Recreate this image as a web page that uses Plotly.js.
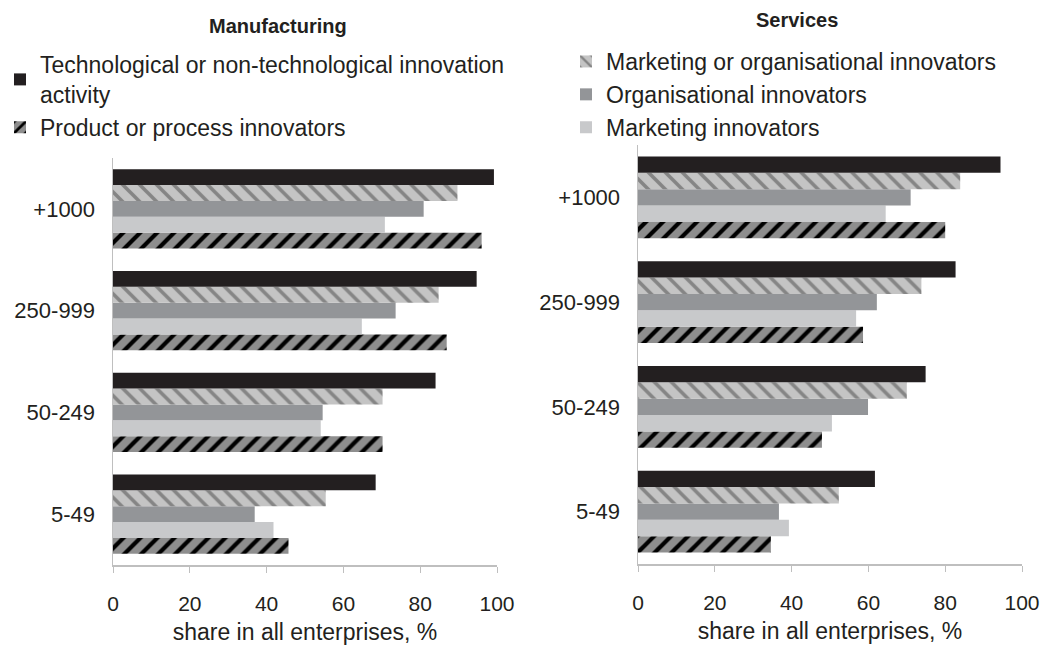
<!DOCTYPE html>
<html>
<head>
<meta charset="utf-8">
<script src="https://cdn.plot.ly/plotly-3.0.1.min.js"></script>
<style>
  html, body { margin: 0; padding: 0; background: #fff; }
  #chart { width: 1043px; height: 646px; }
</style>
</head>
<body>
<div id="chart"></div>
<script>
'use strict'

// data (bottom category first)

const sizeClasses = ['5-49', '50-249', '250-999', '+1000']

const manuTech = [68.4, 84.0, 94.7, 99.2]
const manuMktOrOrg = [55.4, 70.2, 84.8, 89.7]
const manuOrg = [36.9, 54.6, 73.6, 80.9]
const manuMkt = [41.8, 54.1, 64.8, 70.8]
const manuProduct = [45.7, 70.2, 86.9, 96.0]

const servTech = [61.7, 74.9, 82.7, 94.4]
const servMktOrOrg = [52.3, 70.0, 73.8, 83.9]
const servOrg = [36.7, 59.9, 62.2, 71.0]
const servMkt = [39.3, 50.5, 56.8, 64.5]
const servProduct = [34.6, 47.9, 58.6, 80.0]

const names = {
  tech: 'Technological or non-technological innovation<br>activity',
  product: 'Product or process innovators',
  mktOrOrg: 'Marketing or organisational innovators',
  org: 'Organisational innovators',
  mkt: 'Marketing innovators'
}

///////////////////////////////////////////////////////

const W = 1043, H = 646
const FONT = 'Arial, "Liberation Sans", sans-serif'
const INK = '#231f20'
const AXIS = '#bfbfbf'

const markers = {
  tech: { color: INK, line: { width: 0 } },
  product: {
    color: '#8e8e8e',
    line: { width: 0 },
    pattern: { shape: '/', bgcolor: '#8e8e8e', fgcolor: '#000000', size: 12, solidity: 0.35 }
  },
  mktOrOrg: {
    color: '#c4c4c4',
    line: { width: 0 },
    pattern: { shape: '\\', bgcolor: '#c4c4c4', fgcolor: '#858585', size: 12, solidity: 0.3 }
  },
  org: { color: '#939598', line: { width: 0 } },
  mkt: { color: '#c8c9cb', line: { width: 0 } }
}

// first trace is drawn at the bottom of each group
const makeTraces = (series, axes, legendName, inLegend) =>
  ['product', 'mkt', 'org', 'mktOrOrg', 'tech'].map(key => ({
    type: 'bar',
    orientation: 'h',
    name: names[key],
    x: series[key],
    y: sizeClasses,
    xaxis: axes[0],
    yaxis: axes[1],
    marker: markers[key],
    legend: legendName,
    showlegend: inLegend.includes(key),
    hoverinfo: 'x+name'
  }))

let traces = [
  ...makeTraces(
    { tech: manuTech, product: manuProduct, mktOrOrg: manuMktOrOrg, org: manuOrg, mkt: manuMkt },
    ['x', 'y'], 'legend', ['tech', 'product']
  ),
  ...makeTraces(
    { tech: servTech, product: servProduct, mktOrOrg: servMktOrOrg, org: servOrg, mkt: servMkt },
    ['x2', 'y2'], 'legend2', ['mktOrOrg', 'org', 'mkt']
  )
]

const xAxis = (anchor, domainPx) => ({
  anchor: anchor,
  domain: [domainPx[0] / W, domainPx[1] / W],
  range: [0, 100],
  dtick: 20,
  ticks: 'outside',
  ticklen: 6,
  tickwidth: 1,
  tickcolor: AXIS,
  showline: true,
  linecolor: AXIS,
  linewidth: 1.5,
  showgrid: false,
  zeroline: false,
  fixedrange: true,
  automargin: false,
  ticklabelstandoff: 13,
  tickfont: { size: 21, color: INK },
  title: { text: 'share in all enterprises, %', font: { size: 23, color: INK }, standoff: 10 }
})

const yAxis = (anchor, domainPx) => ({
  anchor: anchor,
  domain: [1 - domainPx[1] / H, 1 - domainPx[0] / H],
  type: 'category',
  range: [-0.5, 3.5],
  showline: true,
  linecolor: AXIS,
  linewidth: 1.5,
  ticks: '',
  showgrid: false,
  zeroline: false,
  fixedrange: true,
  automargin: false,
  ticklabelstandoff: 12,
  tickfont: { size: 22, color: INK }
})

const legendAt = (xPx, yPx) => ({
  x: xPx / W,
  y: 1 - yPx / H,
  xanchor: 'left',
  yanchor: 'top',
  traceorder: 'reversed',
  bgcolor: 'rgba(0,0,0,0)',
  itemwidth: 30,
  font: { size: 23, color: INK, family: FONT }
})

let layout = {
  width: W,
  height: H,
  margin: { l: 0, r: 0, t: 0, b: 0, autoexpand: false },
  paper_bgcolor: '#ffffff',
  plot_bgcolor: '#ffffff',
  font: { family: FONT, color: INK },
  barmode: 'group',
  bargap: 0.22,
  bargroupgap: 0,
  xaxis: xAxis('y', [113, 497]),
  yaxis: yAxis('x', [158, 565]),
  xaxis2: xAxis('y2', [638, 1022]),
  yaxis2: yAxis('x2', [145, 564]),
  legend: legendAt(0, 43),
  legend2: legendAt(566, 40),
  annotations: [
    { text: '<b>Manufacturing</b>', x: 278 / W, y: 1 - 26 / H },
    { text: '<b>Services</b>', x: 797 / W, y: 1 - 20 / H }
  ].map(a => Object.assign({
    xref: 'paper',
    yref: 'paper',
    showarrow: false,
    xanchor: 'center',
    yanchor: 'middle',
    font: { size: 20, color: INK, family: FONT }
  }, a))
}

Plotly.newPlot('chart', traces, layout, { displayModeBar: false, staticPlot: true })
</script>
</body>
</html>
